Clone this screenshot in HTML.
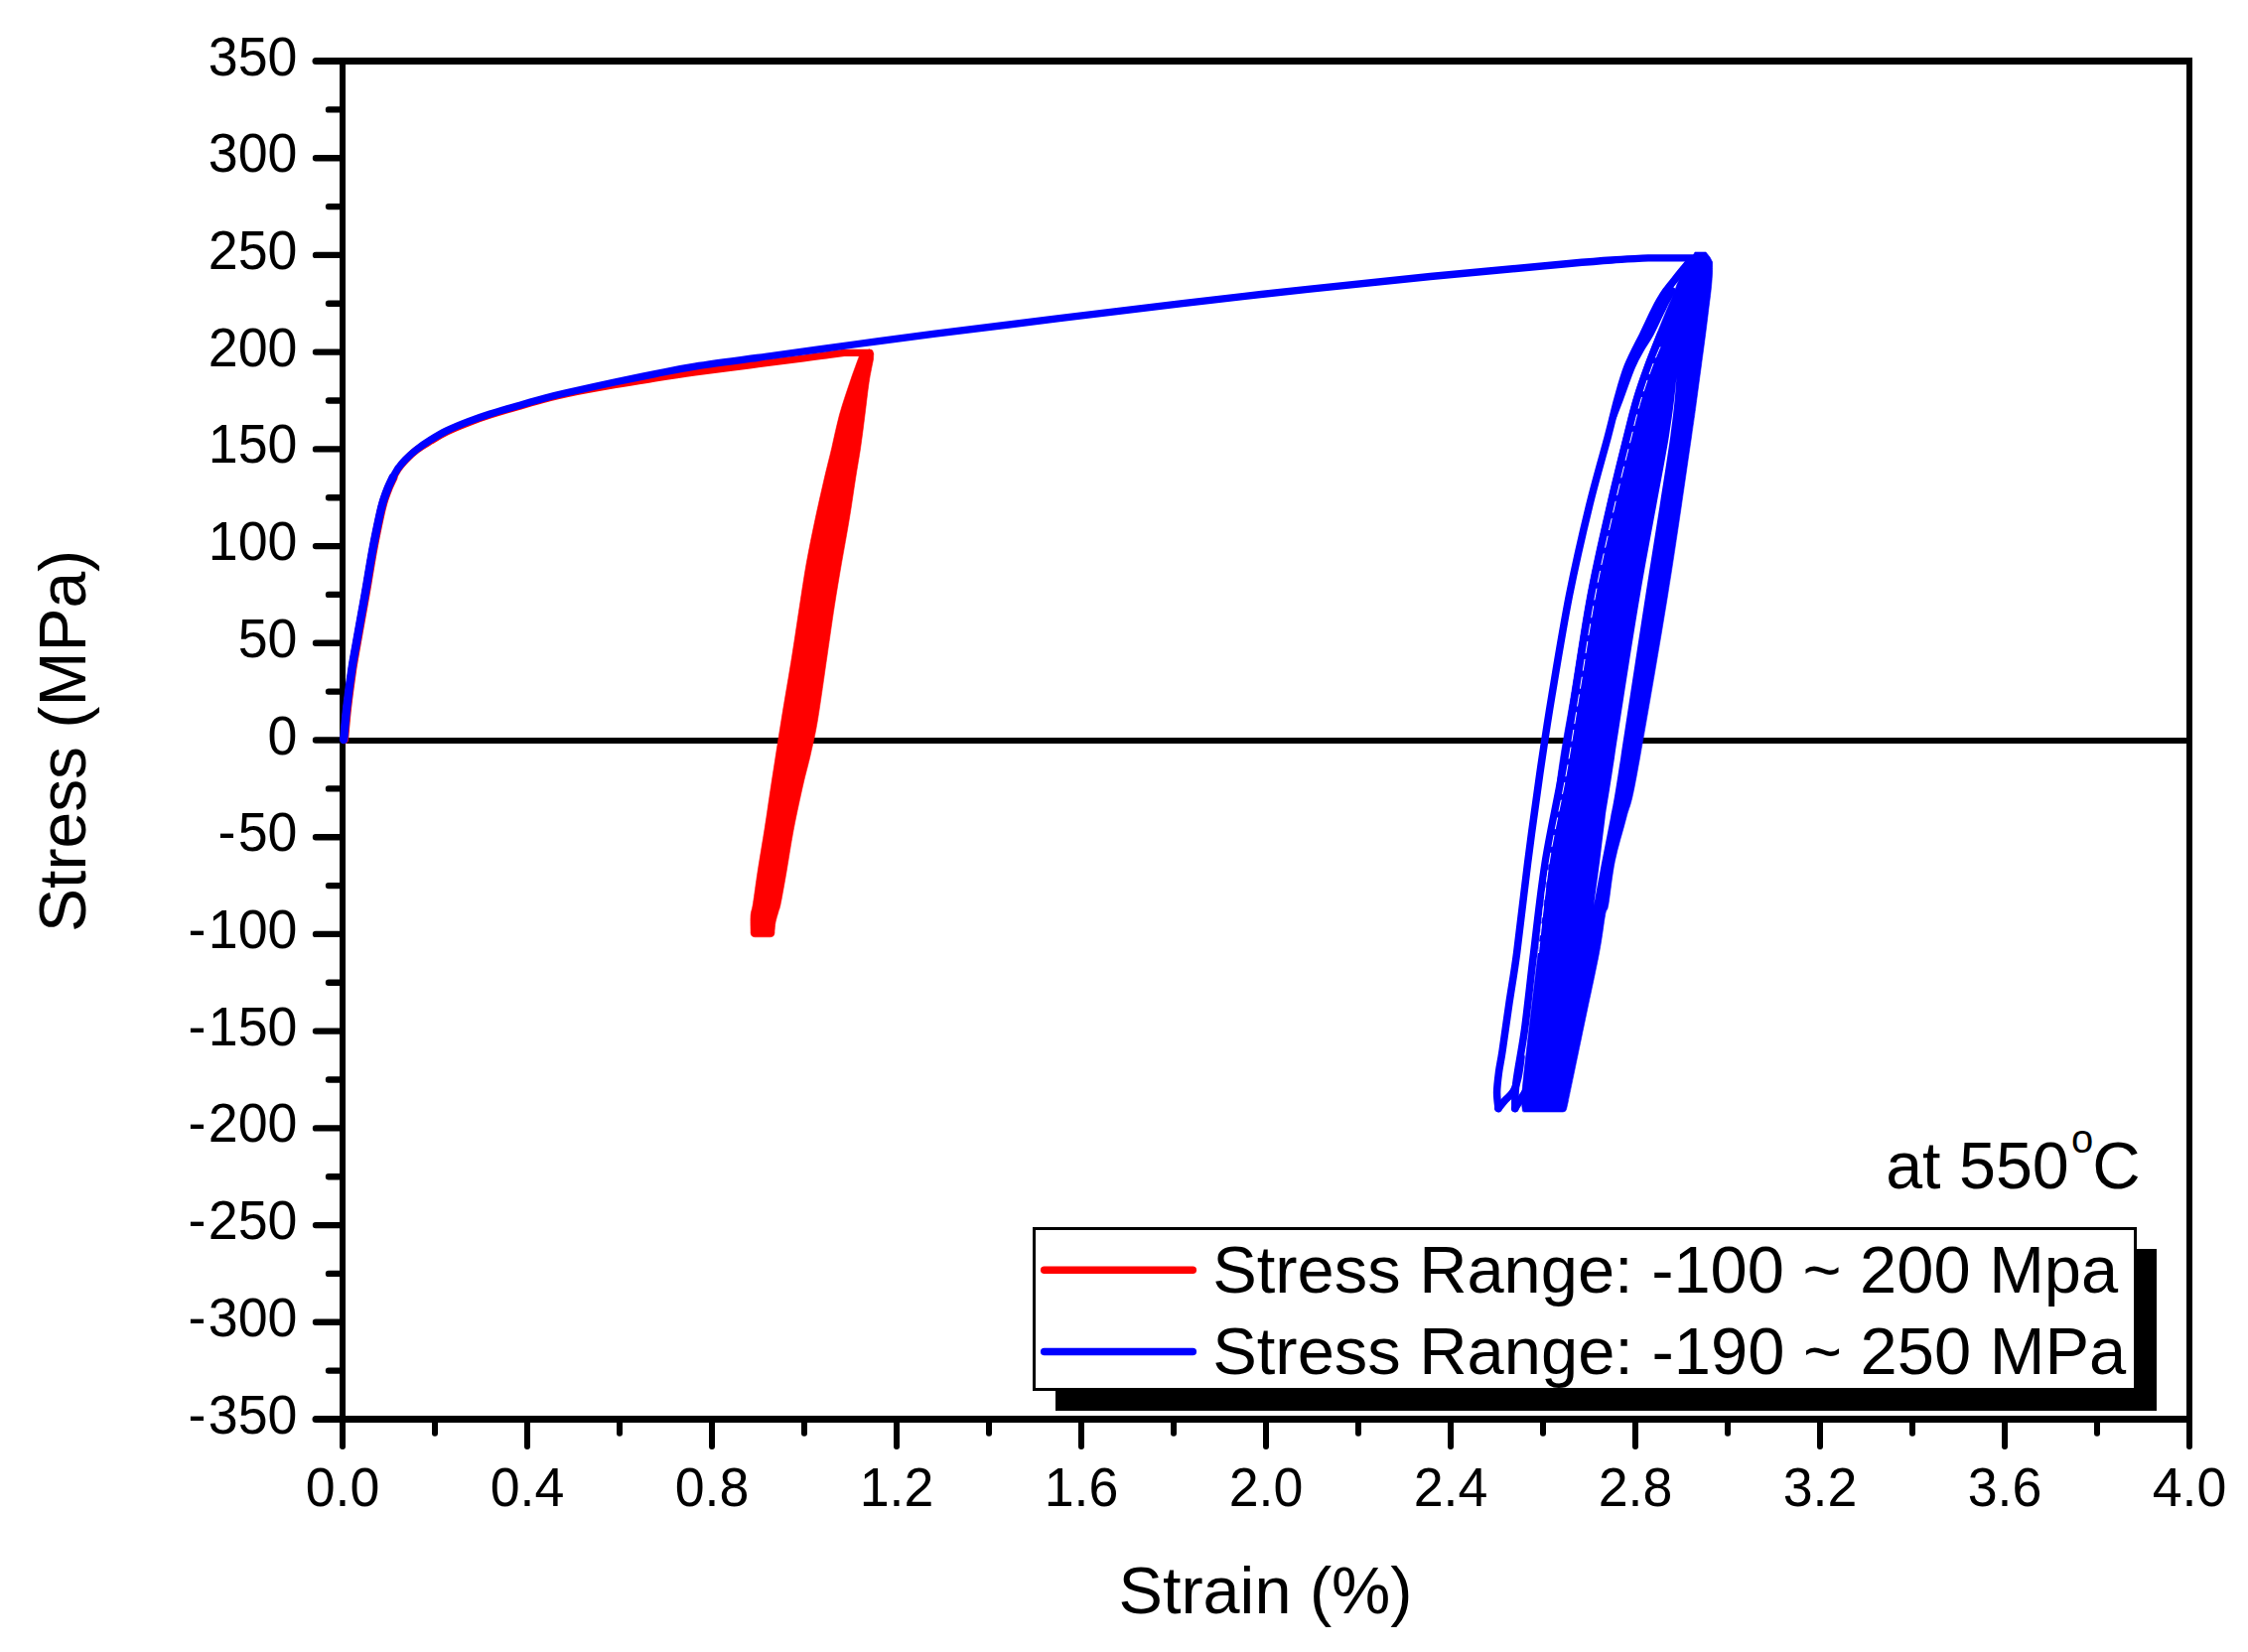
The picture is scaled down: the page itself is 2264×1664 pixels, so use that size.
<!DOCTYPE html>
<html lang="en"><head><meta charset="utf-8"><title>Stress-Strain at 550C</title>
<style>html,body{margin:0;padding:0;background:#fff;overflow:hidden;}svg{display:block;}text{font-family:"Liberation Sans",Arial,sans-serif;fill:#000;}</style>
</head><body>
<svg width="2264" height="1664" viewBox="0 0 2264 1664">
<rect x="0" y="0" width="2264" height="1664" fill="#fff"/>
<g fill="#000" shape-rendering="crispEdges">
<rect x="318" y="58" width="1890" height="7"/>
<rect x="318" y="1426" width="1890" height="7"/>
<rect x="342" y="58" width="6" height="1399"/>
<rect x="2202" y="58" width="6" height="1399"/>
<rect x="345" y="743" width="1860" height="6"/>
</g>
<g fill="#000"><circle cx="318" cy="61.5" r="3.5"/><circle cx="318" cy="1429.5" r="3.5"/><circle cx="345" cy="1457" r="3"/><circle cx="2205" cy="1457" r="3"/></g>
<g stroke="#000" stroke-linecap="round" fill="none">
<path stroke-width="6.4" d="M318 1331.8H344M318 1234.1H344M318 1136.4H344M318 1038.6H344M318 940.9H344M318 843.2H344M318 745.5H344M318 647.8H344M318 550.1H344M318 452.4H344M318 354.6H344M318 256.9H344M318 159.2H344"/>
<path stroke-width="6.4" d="M331 1380.6H344M331 1282.9H344M331 1185.2H344M331 1087.5H344M331 989.8H344M331 892.1H344M331 794.4H344M331 696.6H344M331 598.9H344M331 501.2H344M331 403.5H344M331 305.8H344M331 208.1H344M331 110.4H344"/>
<path stroke-width="6" d="M531.0 1431V1457M717.0 1431V1457M903.0 1431V1457M1089.0 1431V1457M1275.0 1431V1457M1461.0 1431V1457M1647.0 1431V1457M1833.0 1431V1457M2019.0 1431V1457"/>
<path stroke-width="6" d="M438.0 1431V1443.7M624.0 1431V1443.7M810.0 1431V1443.7M996.0 1431V1443.7M1182.0 1431V1443.7M1368.0 1431V1443.7M1554.0 1431V1443.7M1740.0 1431V1443.7M1926.0 1431V1443.7M2112.0 1431V1443.7"/>
</g>
<g font-size="55.5" text-anchor="end">
<text transform="translate(299.4 1443.5) scale(0.968 1)"><tspan>-</tspan><tspan dx="2.4">350</tspan></text>
<text transform="translate(299.4 1345.8) scale(0.968 1)"><tspan>-</tspan><tspan dx="2.4">300</tspan></text>
<text transform="translate(299.4 1248.1) scale(0.968 1)"><tspan>-</tspan><tspan dx="2.4">250</tspan></text>
<text transform="translate(299.4 1150.4) scale(0.968 1)"><tspan>-</tspan><tspan dx="2.4">200</tspan></text>
<text transform="translate(299.4 1052.6) scale(0.968 1)"><tspan>-</tspan><tspan dx="2.4">150</tspan></text>
<text transform="translate(299.4 954.9) scale(0.968 1)"><tspan>-</tspan><tspan dx="2.4">100</tspan></text>
<text transform="translate(299.4 857.2) scale(0.968 1)"><tspan>-</tspan><tspan dx="2.4">50</tspan></text>
<text transform="translate(299.4 759.5) scale(0.968 1)">0</text>
<text transform="translate(299.4 661.8) scale(0.968 1)">50</text>
<text transform="translate(299.4 564.1) scale(0.968 1)">100</text>
<text transform="translate(299.4 466.4) scale(0.968 1)">150</text>
<text transform="translate(299.4 368.6) scale(0.968 1)">200</text>
<text transform="translate(299.4 270.9) scale(0.968 1)">250</text>
<text transform="translate(299.4 173.2) scale(0.968 1)">300</text>
<text transform="translate(299.4 75.5) scale(0.968 1)">350</text>
</g>
<g font-size="55.5" text-anchor="middle">
<text transform="translate(345.0 1517.4) scale(0.968 1)">0.0</text>
<text transform="translate(531.0 1517.4) scale(0.968 1)">0.4</text>
<text transform="translate(717.0 1517.4) scale(0.968 1)">0.8</text>
<text transform="translate(903.0 1517.4) scale(0.968 1)">1.2</text>
<text transform="translate(1089.0 1517.4) scale(0.968 1)">1.6</text>
<text transform="translate(1275.0 1517.4) scale(0.968 1)">2.0</text>
<text transform="translate(1461.0 1517.4) scale(0.968 1)">2.4</text>
<text transform="translate(1647.0 1517.4) scale(0.968 1)">2.8</text>
<text transform="translate(1833.0 1517.4) scale(0.968 1)">3.2</text>
<text transform="translate(2019.0 1517.4) scale(0.968 1)">3.6</text>
<text transform="translate(2205.0 1517.4) scale(0.968 1)">4.0</text>
</g>
<text font-size="67" text-anchor="middle" x="1274.5" y="1625" textLength="296" lengthAdjust="spacingAndGlyphs">Strain (%)</text>
<text font-size="67" text-anchor="middle" transform="translate(85.6 746.4) rotate(-90)" textLength="385" lengthAdjust="spacingAndGlyphs">Stress (MPa)</text>
<g fill="#f00" stroke="#f00" stroke-linejoin="round" stroke-linecap="round">
<path stroke-width="0.6" d="M866.0 357.0C864.3 361.7 859.2 375.2 855.8 385.4C852.4 395.6 848.4 407.1 845.4 418.0C842.4 428.9 840.3 440.0 837.8 450.7C835.3 461.4 833.0 469.9 830.2 482.0C827.4 494.1 823.9 509.4 820.9 523.6C817.9 537.8 814.8 552.7 812.2 567.2C809.6 581.7 807.7 595.2 805.3 610.7C802.9 626.2 800.8 641.0 797.8 660.0C794.8 679.0 790.5 703.3 787.0 725.0C783.5 746.7 779.6 771.9 776.8 790.0C774.0 808.1 772.6 819.1 770.3 833.6C768.0 848.1 765.2 864.5 763.2 877.2C761.2 889.9 759.7 902.3 758.5 909.8C757.3 917.3 756.5 917.3 756.1 922.0C755.7 926.7 756.1 935.3 756.1 938.0L756.1 940Q756.5 943.8 760 943.8L776 943.8Q779.6 943.8 780 940L780.0 938.0C780.2 936.5 780.4 932.2 781.0 929.0C781.6 925.8 783.0 921.8 783.9 918.6C784.8 915.4 784.9 916.7 786.3 909.8C787.7 902.9 790.0 889.9 792.2 877.2C794.4 864.5 796.8 848.1 799.6 833.6C802.4 819.1 806.1 802.3 808.9 790.0C811.7 777.7 813.9 770.8 816.3 760.0C818.7 749.2 820.7 741.7 823.5 725.0C826.3 708.3 830.3 679.0 833.1 660.0C835.9 641.0 837.9 626.2 840.3 610.7C842.7 595.2 845.0 581.7 847.5 567.2C850.0 552.7 852.9 537.8 855.2 523.6C857.6 509.4 859.7 494.1 861.6 482.0C863.5 469.9 865.1 461.4 866.7 450.7C868.3 440.0 869.6 428.9 871.0 418.0C872.4 407.1 873.7 394.7 875.1 385.4C876.5 376.1 878.8 365.9 879.5 362.0L879.8 356L876 352Z"/>
<path fill="none" stroke-width="7.3" d="M346.8 745.0C347.3 739.7 348.4 725.0 349.8 713.0C351.2 701.0 353.6 683.7 355.1 673.2C356.7 662.7 357.6 658.5 359.1 650.0C360.6 641.5 362.5 630.7 364.0 622.5C365.5 614.3 366.6 608.0 367.9 600.7C369.2 593.4 370.4 586.2 371.6 578.9C372.8 571.6 374.0 564.4 375.3 557.1C376.6 549.9 378.0 542.6 379.5 535.4C381.0 528.1 382.9 519.1 384.2 513.6C385.5 508.2 386.0 506.3 387.2 502.7C388.4 499.1 389.7 495.4 391.2 491.8C392.7 488.2 394.7 483.9 396.2 480.9C397.7 477.9 399.2 475.5 400.3 473.7C401.4 471.9 401.5 471.8 402.9 470.0C404.4 468.2 406.2 465.6 409.0 462.8C411.8 460.0 415.7 456.1 419.9 453.0C424.1 449.9 429.0 447.1 434.1 444.0C439.2 440.9 444.1 437.8 450.4 434.7C456.8 431.6 464.9 428.3 472.2 425.5C479.5 422.7 485.8 420.4 494.0 417.8C502.2 415.2 512.2 412.3 521.3 409.7C530.4 407.1 540.3 404.2 548.5 402.0C556.7 399.8 558.7 399.0 570.6 396.6C582.5 394.2 605.1 390.1 620.0 387.5C634.9 384.9 646.7 383.1 660.0 381.0C673.3 378.9 684.2 377.2 700.0 375.0C715.8 372.8 736.8 370.1 755.0 367.8C773.2 365.5 795.7 362.7 809.0 361.0C822.3 359.3 828.2 358.3 835.0 357.4C841.8 356.5 847.5 355.7 850.0 355.4L876 355.4"/>
<path fill="none" stroke-width="8.6" d="M346.8 745.0C347.3 739.7 348.4 725.0 349.8 713.0C351.2 701.0 353.6 683.7 355.1 673.2C356.7 662.7 357.6 658.5 359.1 650.0C360.6 641.5 362.5 630.7 364.0 622.5C365.5 614.3 366.6 608.0 367.9 600.7C369.2 593.4 370.4 586.2 371.6 578.9C372.8 571.6 374.0 564.4 375.3 557.1C376.6 549.9 378.0 542.6 379.5 535.4C381.0 528.1 382.9 519.1 384.2 513.6C385.5 508.2 386.0 506.3 387.2 502.7C388.4 499.1 389.7 495.4 391.2 491.8C392.7 488.2 395.4 482.7 396.2 480.9"/>
</g>
<g fill="#00f" stroke="#00f" stroke-linejoin="round" stroke-linecap="round">
<path stroke-width="0.6" d="M1533.4 1119.0C1533.3 1115.8 1531.9 1113.8 1533.0 1100.0C1534.1 1086.2 1537.3 1059.3 1540.0 1036.0C1542.7 1012.7 1545.7 987.7 1549.0 960.0C1552.3 932.3 1556.6 900.0 1560.0 870.0C1563.4 840.0 1565.5 808.3 1569.2 780.0C1572.9 751.7 1577.5 730.0 1582.4 700.0C1587.3 670.0 1592.7 631.7 1598.6 600.0C1604.5 568.3 1611.9 536.7 1618.0 510.0C1624.1 483.3 1630.5 458.1 1635.0 440.0C1639.5 421.9 1641.5 413.4 1645.0 401.6C1648.5 389.8 1652.0 379.9 1656.0 369.0C1660.0 358.1 1665.2 345.4 1668.8 336.3C1672.4 327.2 1674.8 321.2 1677.6 314.5C1680.4 307.8 1683.3 301.2 1685.5 296.0C1687.7 290.8 1688.2 287.7 1690.5 283.0C1692.8 278.3 1697.6 270.5 1699.0 268.0L1707 254L1718 254L1722 259L1724.6 264L1724.6 268.0C1724.6 269.5 1724.7 272.9 1724.4 277.0C1724.2 281.1 1723.8 286.4 1723.1 292.7C1722.4 298.9 1721.3 307.2 1720.4 314.5C1719.5 321.8 1718.9 327.2 1717.7 336.3C1716.5 345.4 1714.8 358.1 1713.3 369.0C1711.8 379.9 1710.5 389.8 1708.9 401.6C1707.3 413.4 1708.4 406.9 1703.5 440.0C1698.6 473.1 1688.7 543.3 1679.5 600.0C1670.3 656.7 1655.4 742.7 1648.5 780.0C1641.6 817.3 1641.6 809.1 1637.9 823.6C1634.2 838.1 1629.4 852.7 1626.4 867.2C1623.4 881.7 1621.5 901.7 1619.9 910.8C1618.3 919.9 1618.2 913.5 1616.6 921.7C1615.0 929.9 1614.1 941.1 1610.5 960.0C1606.9 978.9 1600.0 1010.0 1594.8 1035.0C1589.6 1060.0 1581.8 1097.5 1579.2 1110.0L1577.6 1117Q1577 1120 1574 1120L1535 1120Z"/>
<path fill="none" stroke-width="7.3" d="M346.2 745.0C346.7 739.7 347.8 725.0 349.2 713.0C350.6 701.0 352.9 683.7 354.5 673.2C356.1 662.7 357.0 658.5 358.5 650.0C360.0 641.5 361.9 630.7 363.4 622.5C364.9 614.3 366.0 608.0 367.3 600.7C368.6 593.4 369.8 586.2 371.0 578.9C372.2 571.6 373.4 564.4 374.7 557.1C376.0 549.9 377.4 542.6 378.9 535.4C380.4 528.1 382.3 519.1 383.6 513.6C384.9 508.2 385.4 506.3 386.6 502.7C387.8 499.1 389.1 495.4 390.6 491.8C392.1 488.2 394.1 483.9 395.6 480.9C397.1 477.9 398.6 475.5 399.7 473.7C400.8 471.9 400.9 471.8 402.3 470.0C403.8 468.2 405.6 465.6 408.4 462.8C411.2 460.0 415.1 456.3 419.3 453.0C423.5 449.7 428.4 446.4 433.5 443.2C438.6 440.0 443.4 437.0 449.8 433.9C456.2 430.8 464.3 427.5 471.6 424.7C478.9 421.9 485.2 419.6 493.4 417.0C501.6 414.4 511.6 411.5 520.7 408.9C529.8 406.3 539.7 403.4 547.9 401.2C556.1 399.0 558.0 398.5 570.0 395.8C582.0 393.1 605.0 388.0 620.0 384.8C635.0 381.6 646.7 379.2 660.0 376.6C673.3 374.0 680.0 372.3 700.0 369.2C720.0 366.1 753.3 361.7 780.0 358.0C806.7 354.3 833.3 350.6 860.0 347.0C886.7 343.4 905.5 340.7 940.0 336.3C974.5 331.9 1014.5 327.0 1066.8 320.7C1119.1 314.4 1191.4 305.3 1253.7 298.3C1316.0 291.3 1386.1 284.0 1440.5 278.5C1494.9 273.0 1548.8 268.3 1580.0 265.5C1611.2 262.7 1614.1 262.6 1627.4 261.7C1640.7 260.8 1654.6 260.2 1660.0 259.9L1712 259.9"/>
<path fill="none" stroke-width="8.3" d="M346.2 745.0C346.7 739.7 347.8 725.0 349.2 713.0C350.6 701.0 352.9 683.7 354.5 673.2C356.1 662.7 357.0 658.5 358.5 650.0C360.0 641.5 361.9 630.7 363.4 622.5C364.9 614.3 366.0 608.0 367.3 600.7C368.6 593.4 369.8 586.2 371.0 578.9C372.2 571.6 373.4 564.4 374.7 557.1C376.0 549.9 377.4 542.6 378.9 535.4C380.4 528.1 382.3 519.1 383.6 513.6C384.9 508.2 385.4 506.3 386.6 502.7C387.8 499.1 389.1 495.4 390.6 491.8C392.1 488.2 394.8 482.7 395.6 480.9"/>
<path fill="none" stroke-width="7.5" d="M1509.0 1116.5C1508.8 1113.8 1507.5 1106.1 1507.6 1100.0C1507.7 1093.9 1508.6 1087.0 1509.5 1080.0C1510.4 1073.0 1511.5 1069.4 1513.2 1057.7C1515.0 1046.0 1517.6 1026.3 1520.0 1010.0C1522.4 993.7 1524.5 983.3 1527.6 960.0C1530.7 936.7 1534.7 900.0 1538.5 870.0C1542.3 840.0 1546.6 808.3 1550.7 780.0C1554.8 751.7 1558.0 730.0 1563.0 700.0C1568.0 670.0 1574.2 631.7 1580.4 600.0C1586.7 568.3 1594.0 536.7 1600.5 510.0C1607.0 483.3 1614.5 458.1 1619.3 440.0C1624.1 421.9 1625.8 413.4 1629.1 401.6C1632.4 389.8 1634.9 379.9 1639.2 369.0C1643.5 358.1 1650.6 345.4 1655.0 336.3C1659.4 327.2 1662.7 319.9 1665.4 314.5C1668.1 309.1 1668.9 307.2 1671.0 303.6C1673.1 300.0 1675.3 296.3 1677.9 292.7C1680.5 289.1 1683.7 285.4 1686.6 281.8C1689.5 278.2 1692.7 274.0 1695.3 270.9C1697.9 267.8 1700.9 264.3 1702.0 263.0"/>
<path fill="none" stroke-width="7.2" d="M1624.5 420.0C1625.7 416.9 1628.3 410.1 1631.5 401.6C1634.7 393.1 1639.9 377.6 1643.6 369.0C1647.3 360.4 1650.4 355.4 1653.5 350.0C1656.6 344.6 1658.8 342.2 1662.0 336.3C1665.2 330.4 1669.9 319.9 1672.6 314.5C1675.2 309.1 1676.0 307.2 1677.9 303.6C1679.8 300.0 1683.0 294.5 1684.0 292.7"/>
<path fill="none" stroke-width="7.5" d="M1525.8 1116.5C1526.0 1112.2 1525.3 1104.2 1526.9 1090.8C1528.5 1077.4 1532.6 1058.1 1535.6 1036.3C1538.5 1014.5 1541.2 987.7 1544.6 960.0C1548.0 932.3 1551.3 900.0 1556.0 870.0C1560.7 840.0 1568.0 808.3 1573.0 780.0C1578.0 751.7 1581.3 730.0 1586.2 700.0C1591.1 670.0 1596.5 631.7 1602.4 600.0C1608.3 568.3 1615.7 536.7 1621.8 510.0C1627.9 483.3 1634.3 458.1 1638.8 440.0C1643.3 421.9 1645.3 413.4 1648.8 401.6C1652.3 389.8 1655.8 379.9 1659.8 369.0C1663.8 358.1 1670.4 341.8 1672.5 336.3"/>
<path fill="none" stroke-width="7.5" d="M1509.0 1116.5C1510.2 1115.1 1513.5 1110.8 1516.0 1108.0C1518.5 1105.2 1521.8 1103.3 1524.0 1099.5C1526.2 1095.7 1527.7 1090.8 1529.0 1085.0C1530.3 1079.2 1531.5 1068.3 1532.0 1065.0"/>
<path fill="none" stroke-width="7.5" d="M1525.8 1116.5L1536 1100"/>
</g>
<path fill="#fff" d="M1688.5 380.0C1687.2 390.0 1686.9 403.3 1680.8 440.0C1674.7 476.7 1661.3 543.3 1651.7 600.0C1642.1 656.7 1629.2 742.7 1623.4 780.0C1617.6 817.3 1618.6 809.1 1616.6 823.6C1614.6 838.1 1613.1 852.5 1611.2 867.2C1609.3 881.9 1606.2 904.5 1605.2 912.0L1605.2 912.0C1606.6 904.5 1610.6 881.9 1613.4 867.2C1616.2 852.5 1619.3 838.1 1622.0 823.6C1624.7 809.1 1623.7 817.3 1629.6 780.0C1635.5 742.7 1648.4 656.7 1657.2 600.0C1666.0 543.3 1677.0 476.7 1682.2 440.0C1687.4 403.3 1687.5 390.0 1688.5 380.0Z"/>
<path fill="none" stroke="#fff" stroke-width="1" stroke-dasharray="12 6" d="M1549.5 960.0C1551.2 945.0 1555.4 900.0 1560.0 870.0C1564.6 840.0 1572.2 808.3 1577.3 780.0C1582.4 751.7 1585.5 730.0 1590.4 700.0C1595.3 670.0 1600.7 631.7 1606.6 600.0C1612.5 568.3 1619.9 536.7 1626.0 510.0C1632.1 483.3 1638.5 458.1 1643.0 440.0C1647.5 421.9 1649.5 413.4 1653.0 401.6C1656.5 389.8 1660.5 378.4 1664.0 369.0C1667.5 359.6 1672.3 349.0 1674.0 345.0"/>
<text font-size="67" x="1899.2" y="1196.7"><tspan textLength="184.6" lengthAdjust="spacingAndGlyphs">at 550</tspan><tspan font-size="40" x="2086" y="1161.2">o</tspan><tspan x="2107.3" y="1196.7">C</tspan></text>
<rect x="1062.7" y="1258" width="1109.3" height="163" fill="#000" shape-rendering="crispEdges"/>
<rect x="1041.5" y="1237.5" width="1108.5" height="162" fill="#fff" stroke="#000" stroke-width="3" shape-rendering="crispEdges"/>
<path d="M1051.7 1279.3H1201.3" stroke="#f00" stroke-width="7.5" stroke-linecap="round"/>
<path d="M1051.7 1361.4H1201.3" stroke="#00f" stroke-width="7.5" stroke-linecap="round"/>
<text font-size="67" x="1221.2" y="1302" textLength="912" lengthAdjust="spacingAndGlyphs">Stress Range: -100 ~ 200 Mpa</text>
<text font-size="67" x="1221.2" y="1384" textLength="920" lengthAdjust="spacingAndGlyphs">Stress Range: -190 ~ 250 MPa</text>
</svg>
</body></html>
